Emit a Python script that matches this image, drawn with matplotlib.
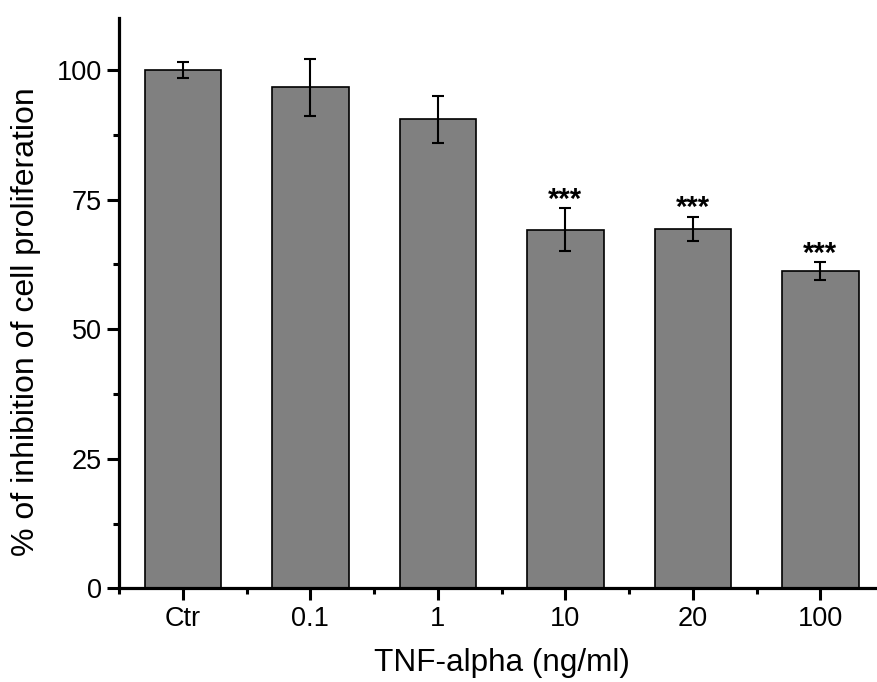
import matplotlib
matplotlib.use("Agg")
import matplotlib.pyplot as plt
from matplotlib.ticker import FixedLocator, MultipleLocator
import numpy as np

categories = ["Ctr", "0.1", "1", "10", "20", "100"]
values = [100.0, 96.7, 90.5, 69.2, 69.4, 61.2]
errors = [1.5, 5.5, 4.6, 4.1, 2.3, 1.7]
signif = ["", "", "", "***", "***", "***"]

plt.rcParams['font.family'] = ['Liberation Sans', 'DejaVu Sans']

fig = plt.figure(figsize=(8.77, 6.82), dpi=100)
ax = fig.add_axes([119/877, 93.7/682, 765/877, 570/682])

x = np.arange(1, len(categories) + 1)
ax.bar(x, values, width=0.6, color="#808080", edgecolor="black", linewidth=1.2, zorder=2)
ax.errorbar(x, values, yerr=errors, fmt="none", ecolor="black", elinewidth=1.5,
            capsize=4.5, capthick=1.5, zorder=3)
for xi, v, e, s in zip(x, values, errors, signif):
    if s:
        ax.annotate(s, (xi, v + e), xytext=(0, -4), textcoords="offset points",
                    ha="center", va="bottom", fontsize=21, fontweight="bold")

ax.set_xlim(0.5, 6.5)
ax.set_ylim(0, 110)
ax.set_xticks(x)
ax.set_xticklabels(categories)
ax.xaxis.set_minor_locator(FixedLocator(np.arange(0.5, 7.0, 1.0)))
ax.set_yticks([0, 25, 50, 75, 100])
ax.yaxis.set_minor_locator(MultipleLocator(12.5))

for side in ["top", "right"]:
    ax.spines[side].set_visible(False)
for side in ["left", "bottom"]:
    ax.spines[side].set_linewidth(2.3)

ax.tick_params(which="major", length=8.5, width=2.2, labelsize=19.5, pad=4)
ax.tick_params(which="minor", length=4.5, width=2.2)

ax.set_xlabel("TNF-alpha (ng/ml)", fontsize=22.7, labelpad=12)
ax.set_ylabel("% of inhibition of cell proliferation", fontsize=23)
ax.yaxis.set_label_coords(-0.102, 0.468)

fig.savefig("out.png", dpi=100)
